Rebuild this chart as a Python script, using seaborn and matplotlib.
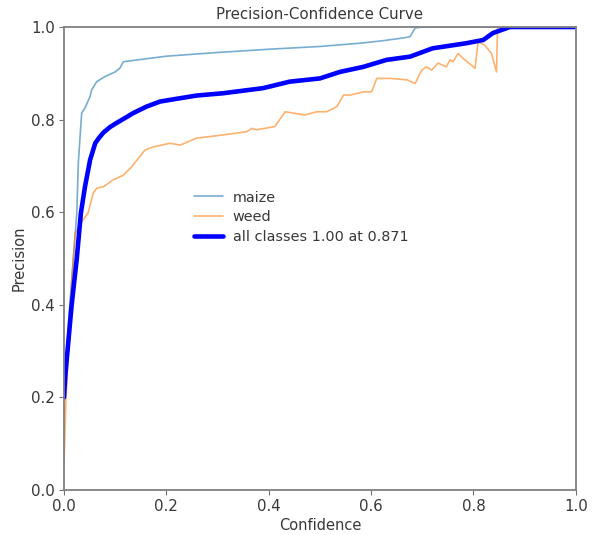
import matplotlib
matplotlib.use("Agg")
import matplotlib.pyplot as plt
import seaborn as sns
import pandas as pd

# ---- data ----
maize_conf = [0.0, 0.01, 0.025, 0.028, 0.0345, 0.041, 0.047, 0.051, 0.054, 0.064, 0.08, 0.1,
              0.109, 0.116, 0.2, 0.3, 0.4, 0.5, 0.578, 0.62, 0.66, 0.676, 0.686, 0.7, 1.0]
maize_prec = [0.2, 0.38, 0.598, 0.706, 0.814, 0.825, 0.84, 0.85, 0.864, 0.882, 0.893, 0.903,
              0.911, 0.925, 0.937, 0.945, 0.952, 0.958, 0.965, 0.97, 0.976, 0.979, 0.998, 1.0, 1.0]

weed_conf = [0.0, 0.004, 0.015, 0.022, 0.035, 0.047, 0.057, 0.064, 0.077, 0.096, 0.116, 0.132,
             0.158, 0.174, 0.207, 0.227, 0.259, 0.311, 0.357, 0.367, 0.376, 0.412, 0.432, 0.471,
             0.494, 0.513, 0.533, 0.546, 0.559, 0.585, 0.601, 0.611, 0.637, 0.67, 0.686, 0.699,
             0.708, 0.718, 0.731, 0.747, 0.754, 0.76, 0.77, 0.78, 0.803, 0.809, 0.822, 0.835,
             0.845, 0.847, 1.0]
weed_prec = [0.06, 0.2, 0.45, 0.555, 0.58, 0.598, 0.641, 0.652, 0.655, 0.67, 0.68, 0.698,
             0.734, 0.741, 0.749, 0.745, 0.76, 0.767, 0.774, 0.781, 0.778, 0.785, 0.817, 0.81,
             0.817, 0.817, 0.828, 0.853, 0.853, 0.86, 0.86, 0.889, 0.889, 0.886, 0.878, 0.907,
             0.914, 0.907, 0.922, 0.914, 0.929, 0.925, 0.943, 0.932, 0.911, 0.968, 0.961, 0.943,
             0.903, 1.0, 1.0]

all_conf = [0.0, 0.003, 0.015, 0.025, 0.033, 0.041, 0.051, 0.061, 0.068, 0.077, 0.09, 0.103,
            0.12, 0.135, 0.161, 0.1875, 0.22, 0.259, 0.311, 0.389, 0.441, 0.5, 0.539, 0.585,
            0.63, 0.676, 0.72, 0.786, 0.819, 0.838, 0.871, 1.0]
all_prec = [0.2, 0.253, 0.4, 0.5, 0.598, 0.655, 0.713, 0.749, 0.76, 0.772, 0.784, 0.793,
            0.804, 0.814, 0.828, 0.839, 0.845, 0.852, 0.857, 0.868, 0.882, 0.889, 0.903, 0.914,
            0.929, 0.936, 0.954, 0.965, 0.972, 0.987, 1.0, 1.0]

labels = ["maize", "weed", "all classes 1.00 at 0.871"]

sns.set_theme(style="white")
plt.rcParams["font.family"] = ["DejaVu Sans"]
txt = "0.22"

fig = plt.figure(figsize=(5.98, 5.35), dpi=100)
ax = fig.add_axes([0.107, 0.084, 0.856, 0.8655])

df_m = pd.DataFrame({"conf": maize_conf, "prec": maize_prec})
df_w = pd.DataFrame({"conf": weed_conf, "prec": weed_prec})
df_a = pd.DataFrame({"conf": all_conf, "prec": all_prec})

sns.lineplot(data=df_m, x="conf", y="prec", ax=ax, color="#1f77b4", lw=1.2, alpha=0.6,
             label=labels[0], estimator=None, sort=False)
sns.lineplot(data=df_w, x="conf", y="prec", ax=ax, color="#ff7f0e", lw=1.2, alpha=0.6,
             label=labels[1], estimator=None, sort=False)
sns.lineplot(data=df_a, x="conf", y="prec", ax=ax, color="blue", lw=3.3,
             label=labels[2], estimator=None, sort=False)

ax.set_xlim(0, 1)
ax.set_ylim(0, 1)
ax.set_xticks([0, 0.2, 0.4, 0.6, 0.8, 1.0])
ax.set_yticks([0, 0.2, 0.4, 0.6, 0.8, 1.0])
ax.xaxis.set_major_formatter(matplotlib.ticker.FormatStrFormatter("%.1f"))
ax.yaxis.set_major_formatter(matplotlib.ticker.FormatStrFormatter("%.1f"))
ax.tick_params(axis="both", direction="out", length=3.5, width=0.8, colors="0.45",
               labelsize=10.8, labelcolor=txt, bottom=True, left=True, pad=3)
for s in ax.spines.values():
    s.set_color("0.5")
    s.set_linewidth(1.3)

ax.set_xlabel("Confidence", fontsize=10.5, color=txt, labelpad=3)
ax.set_ylabel("Precision", fontsize=10.5, color=txt, labelpad=3)
ax.set_title("Precision-Confidence Curve", fontsize=10.8, color=txt, pad=6)

leg = ax.legend(loc="upper left", bbox_to_anchor=(0.228, 0.675), fontsize=10.4,
                frameon=False, handlelength=2.0, handletextpad=0.7,
                labelspacing=0.4, borderpad=0.4)
for t in leg.get_texts():
    t.set_color(txt)

fig.savefig("out.png", dpi=100)
